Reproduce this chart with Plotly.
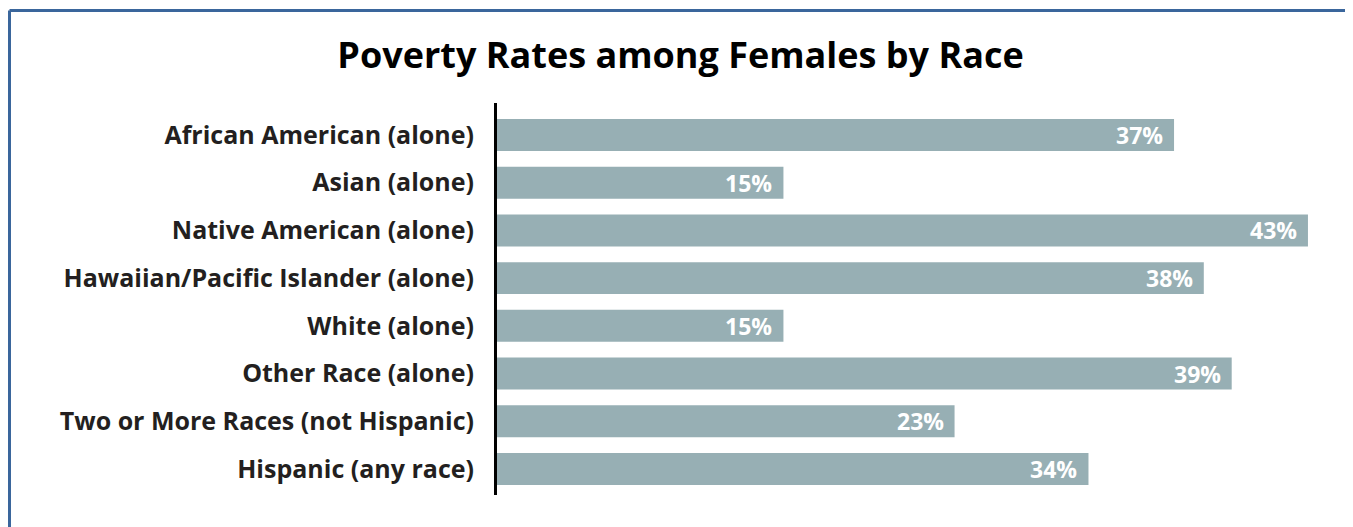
import plotly.graph_objects as go

categories = [
    "African American (alone)",
    "Asian (alone)",
    "Native American (alone)",
    "Hawaiian/Pacific Islander (alone)",
    "White (alone)",
    "Other Race (alone)",
    "Two or More Races (not Hispanic)",
    "Hispanic (any race)",
]
# bar lengths as drawn in the picture (percent)
values = [36.4, 15.4, 43.6, 38.0, 15.4, 39.5, 24.6, 31.8]
# labels printed on the bars
labels = ["37%", "15%", "43%", "38%", "15%", "39%", "23%", "34%"]

title_text = "Poverty Rates among Females by Race"

BAR = "#97afb4"
DARK = "#231f20"
BORDER = "#3a669c"
FONT = "Open Sans"

# page body adds an 8px offset, so the figure is 8px smaller than the window
W, H = 1345, 519
ML, MR, MT, MB = 489, 19, 95, 32
PW, PH = W - ML - MR, H - MT - MB

fig = go.Figure()
fig.add_trace(go.Bar(
    x=values, y=categories, orientation="h",
    marker=dict(color=BAR, line=dict(width=0)),
    width=0.67, hoverinfo="skip",
))

for c, v, t in zip(categories, values, labels):
    fig.add_annotation(
        x=v, y=c, xref="x", yref="y", text=t, showarrow=False,
        xanchor="right", yanchor="middle", xshift=-9, yshift=0,
        font=dict(family=FONT, size=23, color="white", weight="bold"),
    )

def px(xp):
    return (xp - ML) / PW

def py(yp):
    return (H - MB - yp) / PH

# frame border (left, top, right)
for x0, y0, x1, y1 in [(1.5, 2.5, 1.5, 540), (1.5, 2.5, 1343.5, 2.5), (1343.5, 2.5, 1343.5, 540)]:
    fig.add_shape(type="line", xref="paper", yref="paper",
                  x0=px(x0), y0=py(y0), x1=px(x1), y1=py(y1),
                  line=dict(color=BORDER, width=3), layer="above")

fig.update_layout(
    width=W, height=H,
    margin=dict(l=ML, r=MR, t=MT, b=MB),
    paper_bgcolor="white", plot_bgcolor="white",
    showlegend=False,
    title=dict(text=title_text, x=0.5, xref="container", xanchor="center",
               y=1 - 47 / H, yref="container", yanchor="middle",
               font=dict(family=FONT, size=36, color="black", weight="bold")),
    xaxis=dict(range=[0, PW / 18.6], visible=False, fixedrange=True),
    yaxis=dict(
        categoryorder="array", categoryarray=categories,
        range=[7.545, -0.67],
        showgrid=False, zeroline=False,
        showline=True, linecolor="black", linewidth=3,
        ticks="outside", ticklen=15, tickcolor="rgba(0,0,0,0)",
        tickfont=dict(family=FONT, size=25, color=DARK, weight="bold"),
        fixedrange=True,
    ),
    bargap=0.3,
)

fig.write_html("out.html")
